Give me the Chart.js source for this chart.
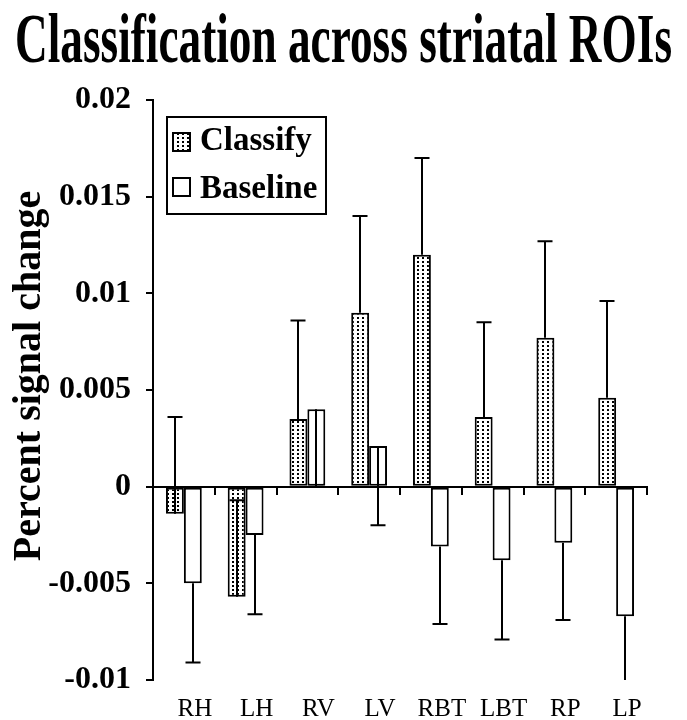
<!DOCTYPE html>
<html>
<head>
<meta charset="utf-8">
<script src="https://cdn.jsdelivr.net/npm/chart.js@4.4.0/dist/chart.umd.min.js"></script>
<style>
	html, body { margin:0; padding:0; background:#fff; }
</style>
</head>
<body>
<canvas id="roiChart" width="687" height="720"></canvas>
<script>
var chartTitle = 'Classification across striatal ROIs'
var yTitle = 'Percent signal change'
var categories = ['RH', 'LH', 'RV', 'LV', 'RBT', 'LBT', 'RP', 'LP']
var classify = [-0.0014, -0.0057, 0.0035, 0.0090, 0.0120, 0.0036, 0.0077, 0.0046]
var classifyErr = [0.0050, 0.0050, 0.0051, 0.0050, 0.0050, 0.0049, 0.0050, 0.0050]
var baseline = [-0.0050, -0.0025, 0.0040, 0.0021, -0.0031, -0.0038, -0.0029, -0.0067]
var baselineErr = [0.0041, 0.0041, 0.0040, 0.0041, 0.0040, 0.0041, 0.0040, 0.0040]

var serif = '"Liberation Serif", "Times New Roman", serif'

function dotPattern() {
	var c = document.createElement('canvas')
	c.width = 5
	c.height = 4
	var g = c.getContext('2d')
	g.fillStyle = '#fff'
	g.fillRect(0, 0, 5, 4)
	g.fillStyle = '#000'
	g.fillRect(2, 1, 2, 2)
	return g.createPattern(c, 'repeat')
}
var dots = dotPattern()

// one-sided error bars: classify goes up, baseline goes down
var errorBars = {
	id: 'errorBars',
	afterDatasetsDraw: function(chart) {
		var ctx = chart.ctx
		var ys = chart.scales.y
		var area = chart.chartArea
		ctx.save()
		ctx.beginPath()
		ctx.rect(area.left, area.top - 10, area.right - area.left, area.bottom - area.top + 10)
		ctx.clip()
		ctx.strokeStyle = '#000'
		ctx.lineWidth = 2
		chart.data.datasets.forEach(function(ds, d) {
			chart.getDatasetMeta(d).data.forEach(function(bar, i) {
				var v = ds.data[i]
				var y0 = ys.getPixelForValue(v)
				var y1 = ys.getPixelForValue(v + ds.errDir * ds.err[i])
				var x = Math.round(bar.x)
				ctx.beginPath()
				ctx.moveTo(x, y0)
				ctx.lineTo(x, y1)
				ctx.moveTo(x - 7.5, y1)
				ctx.lineTo(x + 7.5, y1)
				ctx.stroke()
			})
		})
		ctx.restore()
	}
}

var headings = {
	id: 'headings',
	afterDraw: function(chart) {
		var ctx = chart.ctx
		var area = chart.chartArea
		ctx.save()
		ctx.fillStyle = '#000'
		// title is set condensed in the original
		ctx.font = 'bold 70px ' + serif
		ctx.textBaseline = 'alphabetic'
		var w = ctx.measureText(chartTitle).width
		ctx.save()
		ctx.translate(15, 62)
		ctx.scale(657 / w, 1)
		ctx.fillText(chartTitle, 0, 0)
		ctx.restore()

		ctx.save()
		ctx.font = 'bold 40px ' + serif
		ctx.textAlign = 'center'
		ctx.translate(40, 376)
		ctx.rotate(-Math.PI / 2)
		ctx.fillText(yTitle, 0, 0)
		ctx.restore()

		// boxed legend in upper left of the plot
		var lx = area.left + 14, ly = area.top + 17
		ctx.lineWidth = 2
		ctx.strokeStyle = '#000'
		ctx.strokeRect(lx, ly, 159, 97)
		ctx.font = 'bold 33px ' + serif
		ctx.textAlign = 'left'
		chart.data.datasets.forEach(function(ds, d) {
			var iy = ly + 16 + d * 45
			ctx.fillStyle = ds.backgroundColor
			ctx.fillRect(lx + 6, iy, 17, 18)
			ctx.strokeRect(lx + 6, iy, 17, 18)
			ctx.fillStyle = '#000'
			ctx.fillText(ds.label, lx + 33, ly + 33 + d * 48)
		})
		ctx.restore()
	}
}

var data = {
	type: 'bar',
	data: {
		labels: categories,
		datasets: [
			{
				label: 'Classify',
				data: classify,
				err: classifyErr,
				errDir: 1,
				backgroundColor: dots,
				borderColor: '#000',
				borderWidth: 2,
				borderSkipped: false
			}, {
				label: 'Baseline',
				data: baseline,
				err: baselineErr,
				errDir: -1,
				backgroundColor: '#fff',
				borderColor: '#000',
				borderWidth: 2,
				borderSkipped: false
			}
		]
	},
	options: {
		responsive: false,
		animation: false,
		events: [],
		categoryPercentage: 0.58,
		barPercentage: 1.0,
		layout: { padding: { top: 100, right: 40, bottom: 0, left: 0 } },
		plugins: {
			legend: { display: false },
			title: { display: false },
			tooltip: { enabled: false }
		},
		scales: {
			x: {
				type: 'category',
				offset: true,
				afterFit: function(scale) { scale.height = 40 },
				grid: { display: false, drawTicks: false },
				border: { display: false },
				ticks: {
					color: '#000',
					font: { family: serif, size: 25, lineHeight: 1 },
					padding: 17,
					labelOffset: 11,
					maxRotation: 0,
					autoSkip: false
				}
			},
			x2: {
				type: 'category',
				position: { y: 0 },
				offset: true,
				afterFit: function(scale) { scale.height = 0 },
				grid: { offset: true, drawOnChartArea: false, drawTicks: true, tickLength: 7, color: '#000', lineWidth: 2 },
				border: { display: true, color: '#000', width: 2 },
				ticks: { display: false }
			},
			y: {
				min: -0.01,
				max: 0.02,
				afterFit: function(scale) { scale.width = 153 },
				grid: { drawOnChartArea: false, drawTicks: true, tickLength: 7, color: '#000', lineWidth: 2 },
				border: { display: true, color: '#000', width: 2 },
				ticks: {
					stepSize: 0.005,
					color: '#000',
					padding: 15,
					font: { family: serif, size: 32, weight: 'bold' },
					callback: function(v) { return String(Number(v.toFixed(3))) }
				}
			}
		}
	},
	plugins: [errorBars, headings]
}

var ctx = document.getElementById('roiChart')
var myChart = new Chart(ctx, data)
</script>
</body>
</html>
